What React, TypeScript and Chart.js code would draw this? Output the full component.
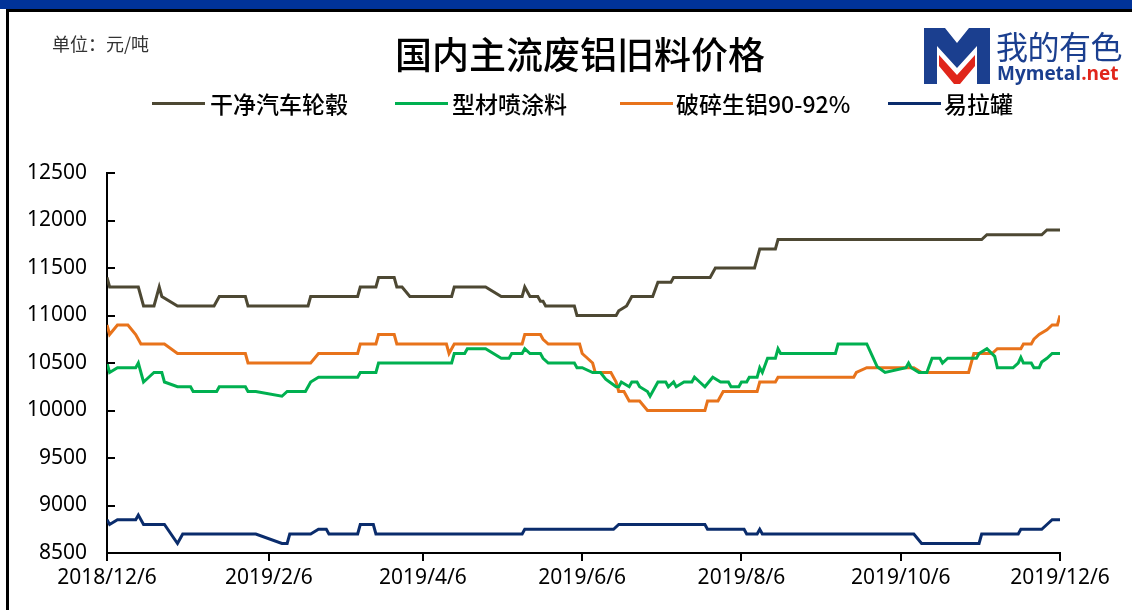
import React, { useEffect, useRef } from "react";
import { Chart, registerables } from "chart.js";

Chart.register(...registerables);

const seriesNames = ["干净汽车轮毂", "型材喷涂料", "破碎生铝90-92%", "易拉罐"];
const seriesColors = ["#4D4833", "#00B050", "#E8731B", "#0A2C6C"];

const tickDates = ["2018-12-06", "2019-02-06", "2019-04-06", "2019-06-06", "2019-08-06", "2019-10-06", "2019-12-06"];
const tickLabels = ["2018/12/6", "2019/2/6", "2019/4/6", "2019/6/6", "2019/8/6", "2019/10/6", "2019/12/6"];
const yTicks = [8500, 9000, 9500, 10000, 10500, 11000, 11500, 12000, 12500];

const wheelHub: [string, number][] = [
  ["2018-12-06", 11400], ["2018-12-07", 11300], ["2018-12-18", 11300], ["2018-12-20", 11100], ["2018-12-24", 11100],
  ["2018-12-26", 11300], ["2018-12-27", 11200], ["2019-01-02", 11100], ["2019-01-16", 11100], ["2019-01-18", 11200],
  ["2019-01-28", 11200], ["2019-01-29", 11100], ["2019-02-21", 11100], ["2019-02-22", 11200], ["2019-03-12", 11200],
  ["2019-03-13", 11300], ["2019-03-19", 11300], ["2019-03-20", 11400], ["2019-03-26", 11400], ["2019-03-27", 11300],
  ["2019-03-29", 11300], ["2019-04-01", 11200], ["2019-04-17", 11200], ["2019-04-18", 11300], ["2019-04-30", 11300],
  ["2019-05-06", 11200], ["2019-05-14", 11200], ["2019-05-15", 11300], ["2019-05-17", 11200], ["2019-05-20", 11200],
  ["2019-05-21", 11150], ["2019-05-22", 11150], ["2019-05-23", 11100], ["2019-06-03", 11100], ["2019-06-04", 11000],
  ["2019-06-19", 11000], ["2019-06-20", 11050], ["2019-06-23", 11100], ["2019-06-25", 11200], ["2019-07-03", 11200],
  ["2019-07-05", 11350], ["2019-07-10", 11350], ["2019-07-11", 11400], ["2019-07-25", 11400], ["2019-07-27", 11500],
  ["2019-08-11", 11500], ["2019-08-13", 11700], ["2019-08-19", 11700], ["2019-08-20", 11800], ["2019-11-06", 11800],
  ["2019-11-08", 11850], ["2019-11-29", 11850], ["2019-12-01", 11900], ["2019-12-06", 11900],
];

const profileCoated: [string, number][] = [
  ["2018-12-06", 10500], ["2018-12-07", 10400], ["2018-12-10", 10450], ["2018-12-17", 10450], ["2018-12-18", 10500],
  ["2018-12-20", 10300], ["2018-12-22", 10350], ["2018-12-24", 10400], ["2018-12-27", 10400], ["2018-12-28", 10300],
  ["2019-01-02", 10250], ["2019-01-07", 10250], ["2019-01-08", 10200], ["2019-01-17", 10200], ["2019-01-18", 10250],
  ["2019-01-28", 10250], ["2019-01-29", 10200], ["2019-02-01", 10200], ["2019-02-11", 10150], ["2019-02-13", 10200],
  ["2019-02-20", 10200], ["2019-02-22", 10300], ["2019-02-25", 10350], ["2019-03-12", 10350], ["2019-03-13", 10400],
  ["2019-03-19", 10400], ["2019-03-20", 10500], ["2019-04-17", 10500], ["2019-04-18", 10600], ["2019-04-22", 10600],
  ["2019-04-23", 10650], ["2019-04-30", 10650], ["2019-05-06", 10550], ["2019-05-09", 10550], ["2019-05-10", 10600],
  ["2019-05-14", 10600], ["2019-05-15", 10650], ["2019-05-17", 10600], ["2019-05-21", 10600], ["2019-05-22", 10550],
  ["2019-05-24", 10500], ["2019-06-03", 10500], ["2019-06-04", 10450], ["2019-06-06", 10450], ["2019-06-10", 10400],
  ["2019-06-13", 10400], ["2019-06-15", 10330], ["2019-06-17", 10290], ["2019-06-19", 10250], ["2019-06-20", 10250],
  ["2019-06-21", 10300], ["2019-06-24", 10250], ["2019-06-25", 10300], ["2019-06-27", 10300], ["2019-06-28", 10250],
  ["2019-07-01", 10200], ["2019-07-02", 10150], ["2019-07-05", 10300], ["2019-07-08", 10300], ["2019-07-09", 10250],
  ["2019-07-11", 10300], ["2019-07-12", 10250], ["2019-07-15", 10300], ["2019-07-18", 10300], ["2019-07-19", 10350],
  ["2019-07-21", 10300], ["2019-07-23", 10250], ["2019-07-26", 10350], ["2019-07-29", 10300], ["2019-08-01", 10300],
  ["2019-08-02", 10250], ["2019-08-05", 10250], ["2019-08-06", 10300], ["2019-08-08", 10300], ["2019-08-09", 10350],
  ["2019-08-12", 10350], ["2019-08-13", 10450], ["2019-08-14", 10400], ["2019-08-16", 10550], ["2019-08-19", 10550],
  ["2019-08-20", 10650], ["2019-08-21", 10600], ["2019-09-11", 10600], ["2019-09-12", 10700], ["2019-09-23", 10700],
  ["2019-09-25", 10580], ["2019-09-27", 10460], ["2019-09-30", 10400], ["2019-10-08", 10450], ["2019-10-09", 10500],
  ["2019-10-10", 10450], ["2019-10-13", 10400], ["2019-10-16", 10400], ["2019-10-18", 10550], ["2019-10-21", 10550],
  ["2019-10-22", 10500], ["2019-10-24", 10550], ["2019-11-04", 10550], ["2019-11-05", 10600], ["2019-11-08", 10650],
  ["2019-11-11", 10570], ["2019-11-12", 10450], ["2019-11-18", 10450], ["2019-11-20", 10500], ["2019-11-21", 10560],
  ["2019-11-22", 10500], ["2019-11-25", 10500], ["2019-11-26", 10450], ["2019-11-28", 10450], ["2019-11-29", 10510],
  ["2019-12-01", 10550], ["2019-12-03", 10600], ["2019-12-06", 10600],
];

const brokenCast: [string, number][] = [
  ["2018-12-06", 10900], ["2018-12-07", 10800], ["2018-12-10", 10900], ["2018-12-14", 10900], ["2018-12-17", 10800],
  ["2018-12-19", 10700], ["2018-12-28", 10700], ["2019-01-02", 10600], ["2019-01-28", 10600], ["2019-01-29", 10500],
  ["2019-02-22", 10500], ["2019-02-25", 10600], ["2019-03-12", 10600], ["2019-03-13", 10700], ["2019-03-19", 10700],
  ["2019-03-20", 10800], ["2019-03-26", 10800], ["2019-03-27", 10700], ["2019-04-15", 10700], ["2019-04-16", 10600],
  ["2019-04-18", 10700], ["2019-05-14", 10700], ["2019-05-15", 10800], ["2019-05-21", 10800], ["2019-05-22", 10750],
  ["2019-05-24", 10700], ["2019-06-05", 10700], ["2019-06-06", 10600], ["2019-06-10", 10500], ["2019-06-11", 10400],
  ["2019-06-17", 10400], ["2019-06-19", 10300], ["2019-06-20", 10200], ["2019-06-22", 10200], ["2019-06-24", 10100],
  ["2019-06-28", 10100], ["2019-07-01", 10000], ["2019-07-23", 10000], ["2019-07-24", 10100], ["2019-07-28", 10100],
  ["2019-07-30", 10200], ["2019-08-12", 10200], ["2019-08-13", 10300], ["2019-08-19", 10300], ["2019-08-20", 10350],
  ["2019-09-18", 10350], ["2019-09-19", 10400], ["2019-09-23", 10450], ["2019-10-11", 10450], ["2019-10-14", 10400],
  ["2019-11-01", 10400], ["2019-11-03", 10600], ["2019-11-10", 10600], ["2019-11-12", 10650], ["2019-11-21", 10650],
  ["2019-11-22", 10700], ["2019-11-25", 10700], ["2019-11-26", 10750], ["2019-11-28", 10800], ["2019-12-01", 10850],
  ["2019-12-03", 10900], ["2019-12-05", 10900], ["2019-12-06", 11000],
];

const cans: [string, number][] = [
  ["2018-12-06", 8850], ["2018-12-07", 8800], ["2018-12-10", 8850], ["2018-12-17", 8850], ["2018-12-18", 8900],
  ["2018-12-20", 8800], ["2018-12-28", 8800], ["2019-01-02", 8600], ["2019-01-04", 8700], ["2019-02-01", 8700],
  ["2019-02-11", 8600], ["2019-02-13", 8600], ["2019-02-14", 8700], ["2019-02-22", 8700], ["2019-02-25", 8750],
  ["2019-02-28", 8750], ["2019-03-01", 8700], ["2019-03-12", 8700], ["2019-03-13", 8800], ["2019-03-18", 8800],
  ["2019-03-19", 8700], ["2019-05-14", 8700], ["2019-05-15", 8750], ["2019-06-18", 8750], ["2019-06-20", 8800],
  ["2019-07-23", 8800], ["2019-07-24", 8750], ["2019-08-07", 8750], ["2019-08-08", 8700], ["2019-08-12", 8700],
  ["2019-08-13", 8750], ["2019-08-14", 8700], ["2019-10-11", 8700], ["2019-10-14", 8600], ["2019-11-05", 8600],
  ["2019-11-06", 8700], ["2019-11-20", 8700], ["2019-11-21", 8750], ["2019-11-29", 8750], ["2019-12-01", 8800],
  ["2019-12-03", 8850], ["2019-12-06", 8850],
];

const START = Date.UTC(2018, 11, 6);
const DAY = 86400000;
const toDay = (s: string) => {
  const [y, m, d] = s.split("-").map(Number);
  return (Date.UTC(y, m - 1, d) - START) / DAY;
};
const toPoints = (arr: [string, number][]) => arr.map(([d, v]) => ({ x: toDay(d), y: v }));

const FONT = "'Noto Sans', 'Noto Sans CJK SC', sans-serif";
const CJK = "'Noto Sans CJK SC', 'Noto Sans', sans-serif";

const innerYTicks = {
  id: "innerYTicks",
  afterDraw(chart: any) {
    const y = chart.scales.y;
    const ctx = chart.ctx;
    ctx.save();
    ctx.strokeStyle = "#000";
    ctx.lineWidth = 2;
    y.ticks.forEach((t: any) => {
      const py = Math.round(y.getPixelForValue(t.value));
      ctx.beginPath();
      ctx.moveTo(y.right, py);
      ctx.lineTo(y.right + 8, py);
      ctx.stroke();
    });
    ctx.restore();
  },
};

function Logo() {
  return (
    <div style={{ position: "absolute", left: 924, top: 28, width: 205, height: 58 }}>
      <svg width={66} height={56} viewBox="0 0 66 56" style={{ position: "absolute", left: 0, top: 0 }}>
        <path d="M0,0 L21,0 L33,15 L45,0 L66,0 L66,56 L53,56 L53,18 L33,40 L13,18 L13,56 L0,56 Z" fill="#1B3F8F" />
        <path d="M15,27 L33,47 L51,27 L51,38 L36,56 L30,56 L15,38 Z" fill="#E0261B" />
      </svg>
      <div style={{ position: "absolute", left: 72, top: -6, fontFamily: CJK, fontSize: 32, color: "#1B3F8F", whiteSpace: "nowrap", letterSpacing: -0.5 }}>
        我的有色
      </div>
      <div style={{ position: "absolute", left: 73, top: 32, fontFamily: "'Open Sans', 'Noto Sans', sans-serif", fontWeight: 700, fontSize: 19, whiteSpace: "nowrap" }}>
        <span style={{ color: "#1B3F8F" }}>Mymetal</span>
        <span style={{ color: "#E0261B" }}>.net</span>
      </div>
    </div>
  );
}

const legendPos = [
  { line: 152, text: 210 },
  { line: 395, text: 452 },
  { line: 620, text: 676 },
  { line: 888, text: 944 },
];

export default function App() {
  const ref = useRef<HTMLCanvasElement>(null);

  useEffect(() => {
    if (!ref.current) return;
    const all = [wheelHub, profileCoated, brokenCast, cans];
    const chart = new Chart(ref.current, {
      type: "line",
      data: {
        datasets: all.map((s, i) => ({
          label: seriesNames[i],
          data: toPoints(s),
          borderColor: seriesColors[i],
          backgroundColor: seriesColors[i],
          borderWidth: 3,
          pointRadius: 0,
          tension: 0,
          fill: false,
        })),
      },
      options: {
        animation: false,
        responsive: false,
        devicePixelRatio: 1,
        layout: { padding: { left: 0, right: 72, top: 173, bottom: 0 } },
        plugins: { legend: { display: false }, title: { display: false }, tooltip: { enabled: false } },
        scales: {
          x: {
            type: "linear",
            min: 0,
            max: toDay(tickDates[tickDates.length - 1]),
            afterBuildTicks: (s: any) => {
              s.ticks = tickDates.map((d) => ({ value: toDay(d) }));
            },
            afterFit: (s: any) => {
              s.height = 57;
              s.paddingLeft = 0;
              s.paddingRight = 0;
            },
            grid: { drawOnChartArea: false, drawTicks: true, tickLength: 8, color: "#000", lineWidth: 2 },
            border: { color: "#000", width: 2 },
            ticks: {
              autoSkip: false,
              maxRotation: 0,
              padding: 4,
              color: "#000",
              font: { family: FONT, size: 21 },
              callback: (_v: any, i: number) => tickLabels[i],
            },
          },
          y: {
            min: yTicks[0],
            max: yTicks[yTicks.length - 1],
            afterBuildTicks: (s: any) => {
              s.ticks = yTicks.map((v) => ({ value: v }));
            },
            afterFit: (s: any) => {
              s.width = 107;
            },
            grid: { drawOnChartArea: false, drawTicks: false },
            border: { color: "#000", width: 2 },
            ticks: {
              padding: 20,
              color: "#000",
              font: { family: FONT, size: 21 },
              callback: (v: any) => String(v),
            },
          },
        },
      },
      plugins: [innerYTicks],
    } as any);
    return () => chart.destroy();
  }, []);

  return (
    <div style={{ position: "absolute", left: 0, top: 0, width: 1132, height: 610, background: "#fff", overflow: "hidden" }}>
      <div style={{ position: "absolute", left: 0, top: 0, width: 1132, height: 9, background: "#003399" }} />
      <div style={{ position: "absolute", left: 6, top: 9, width: 1200, height: 700, borderLeft: "3px solid #000", borderTop: "3px solid #000", boxSizing: "border-box" }} />
      <canvas ref={ref} width={1132} height={610} style={{ position: "absolute", left: 0, top: 0, width: 1132, height: 610 }} />
      <div style={{ position: "absolute", left: 52, top: 30, fontFamily: CJK, fontSize: 18, color: "#333", whiteSpace: "nowrap" }}>
        单位：元/吨
      </div>
      <div style={{ position: "absolute", left: 380, top: 26, width: 400, textAlign: "center", fontFamily: CJK, fontWeight: 500, fontSize: 37, color: "#000", whiteSpace: "nowrap" }}>
        国内主流废铝旧料价格
      </div>
      <Logo />
      {seriesNames.map((n, i) => (
        <React.Fragment key={n}>
          <div style={{ position: "absolute", left: legendPos[i].line, top: 102, width: 53, height: 3, background: seriesColors[i] }} />
          <div style={{ position: "absolute", left: legendPos[i].text, top: 86, fontFamily: CJK, fontWeight: 500, fontSize: 23, color: "#000", whiteSpace: "nowrap" }}>
            {n}
          </div>
        </React.Fragment>
      ))}
    </div>
  );
}
